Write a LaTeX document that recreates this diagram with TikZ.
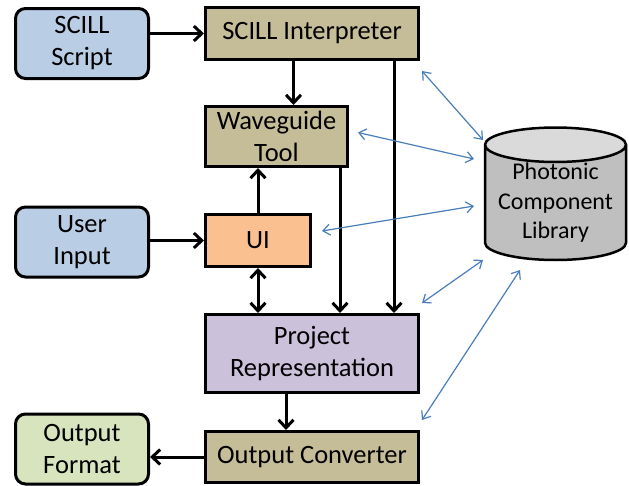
\documentclass[tikz,border=0pt]{standalone}
\usepackage{fontspec}
\setmainfont{Carlito}
\usetikzlibrary{shapes.geometric,arrows.meta}
\definecolor{inblue}{HTML}{B9CDE5}
\definecolor{tooltan}{HTML}{C4BD97}
\definecolor{uiorange}{HTML}{FAC090}
\definecolor{projlav}{HTML}{CCC1DA}
\definecolor{outgreen}{HTML}{D7E4BD}
\definecolor{libgray}{HTML}{BFBFBF}
\definecolor{libtop}{HTML}{DADADA}
\definecolor{linkblue}{HTML}{4A7EBB}

\begin{document}
\begin{tikzpicture}[x=1pt,y=-1pt,
  box/.style={draw,line width=3pt,align=center,inner sep=0pt,fill=tooltan,
    font=\fontsize{26.5}{32}\selectfont},
  io/.style={box,rounded corners=10pt,minimum width=133pt,minimum height=70pt,fill=inblue},
  flow/.style={line width=3pt,-{Straight Barb[length=8pt,width=15pt,line width=3pt]}},
  link/.style={linkblue,line width=1.2pt,
    {Straight Barb[length=7pt,width=11pt]}-{Straight Barb[length=7pt,width=11pt]}}]
\useasboundingbox (0,0) rectangle (629,485);

% inputs and outputs
\node[io] (script) at (82,43.5) {SCILL\\Script};
\node[io] (user) at (82,242) {User\\Input};
\node[io,fill=outgreen] (outfmt) at (82,449) {Output\\Format};

% tools
\node[box,minimum width=213pt,minimum height=52pt] (interp) at (312,33.5) {SCILL Interpreter};
\node[box,minimum width=142pt,minimum height=60pt] (wave) at (276.5,136.5) {Waveguide\\Tool};
\node[box,fill=uiorange,minimum width=105pt,minimum height=52pt] (ui) at (258,240.5) {UI};
\node[box,fill=projlav,minimum width=213pt,minimum height=78pt] (proj) at (312,353.5) {Project\\Representation};
\node[box,minimum width=213pt,minimum height=51pt] (conv) at (312,457) {Output Converter};

% library
\node[cylinder,shape border rotate=90,draw,line width=2.5pt,aspect=0.3,
  minimum width=141pt,minimum height=112pt,
  cylinder uses custom fill,cylinder body fill=libgray,cylinder end fill=libtop,
  align=center,inner sep=0pt,font=\fontsize{24}{29.5}\selectfont]
  (lib) at (555.5,203) {Photonic\\Component\\Library};

% data flow
\draw[flow] (script.east |- interp.west) -- (interp.west);
\draw[flow] ([xshift=17pt]wave.north |- interp.south) -- ([xshift=17pt]wave.north);
\draw[flow] (user.east |- ui.west) -- (ui.west);
\draw[flow] (ui.north) -- (ui.north |- wave.south);
\draw[flow,{Straight Barb[length=8pt,width=15pt,line width=3pt]}-{Straight Barb[length=8pt,width=15pt,line width=3pt]}] (ui.south) -- (ui.south |- proj.north);
\draw[flow] ([xshift=-9pt]wave.south east) -- ([xshift=-9pt]wave.south east |- proj.north);
\draw[flow] ([xshift=-26pt]interp.south east) -- ([xshift=-26pt]interp.south east |- proj.north);
\draw[flow] ([xshift=-26pt]proj.south) -- ([xshift=-26pt]conv.north);
\draw[flow] (conv.west) -- (conv.west -| outfmt.east);

% library links
\draw[link] ([shift={(2,10)}]interp.south east) -- ([shift={(-72.5,-63)}]lib.center);
\draw[link] ([shift={(9,-4)}]wave.east) -- ([shift={(-81.5,-44)}]lib.center);
\draw[link] ([shift={(10,-9.5)}]ui.east) -- ([shift={(-81.5,3)}]lib.center);
\draw[link] ([shift={(2,-10)}]proj.north east) -- ([shift={(-72.5,57)}]lib.center);
\draw[link] ([shift={(2,-10)}]conv.north east) -- ([shift={(-35.5,67)}]lib.center);
\end{tikzpicture}
\end{document}
